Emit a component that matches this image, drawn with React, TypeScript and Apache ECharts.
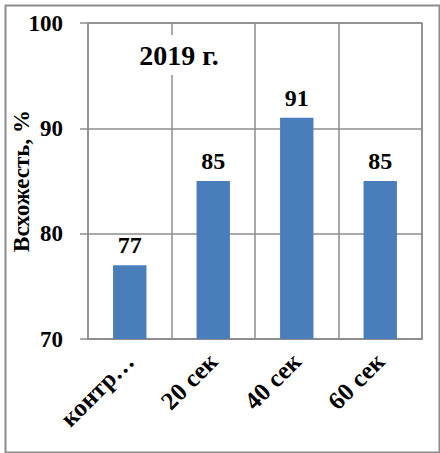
import React, { useEffect, useRef } from "react";
import * as echarts from "echarts";

const categories = ["контроль", "20 сек", "40 сек", "60 сек"];
const values = [77, 85, 91, 85];
const yMin = 70;
const yMax = 100;
const yInterval = 10;
const title = "2019 г.";
const yName = "Всхожесть, %";

const FONT = "Liberation Serif";

export default function App() {
  const ref = useRef<HTMLDivElement>(null);
  useEffect(() => {
    if (!ref.current) return;
    const chart = echarts.init(ref.current, null, { renderer: "svg" });
    chart.setOption({
      animation: false,
      backgroundColor: "#ffffff",
      textStyle: { fontFamily: FONT },
      grid: {
        left: 88,
        right: 18,
        top: 23,
        bottom: 114,
        show: true,
        borderColor: "#8c8c8c",
        borderWidth: 1.5,
        containLabel: false,
        outerBoundsMode: "none",
      },
      xAxis: {
        type: "category",
        data: categories,
        boundaryGap: true,
        axisLine: { show: true, lineStyle: { color: "#8c8c8c", width: 1.5 } },
        axisTick: { show: false },
        splitLine: { show: true, lineStyle: { color: "#8c8c8c", width: 1.5 } },
        axisLabel: {
          rotate: 45,
          margin: 18,
          interval: 0,
          fontFamily: FONT,
          fontWeight: "bold",
          fontSize: 25,
          color: "#000",
          formatter: (v: string) => (v.length > 6 ? v.slice(0, 5) + "…" : v),
        },
      },
      yAxis: {
        type: "value",
        min: yMin,
        max: yMax,
        interval: yInterval,
        name: yName,
        nameLocation: "middle",
        nameGap: 55,
        nameMoveOverlap: false,
        nameTextStyle: {
          fontFamily: FONT,
          fontWeight: "bold",
          fontSize: 23,
          color: "#000",
        },
        axisLine: { show: false },
        axisTick: { show: true, length: 8, lineStyle: { color: "#8c8c8c", width: 1.5 } },
        splitLine: { show: true, lineStyle: { color: "#8c8c8c", width: 1.5 } },
        axisLabel: {
          margin: 25,
          fontFamily: FONT,
          fontWeight: "bold",
          fontSize: 23,
          color: "#000",
        },
      },
      series: [
        {
          type: "bar",
          data: values,
          barWidth: "40%",
          itemStyle: { color: "#4a7ebb" },
          label: {
            show: true,
            position: "top",
            distance: 8,
            fontFamily: FONT,
            fontWeight: "bold",
            fontSize: 24,
            color: "#000",
          },
        },
      ],
      graphic: [
        {
          type: "rect",
          left: 3,
          top: 3,
          shape: { x: 0, y: 0, width: 434, height: 447 },
          style: { fill: "none", stroke: "#8c8c8c", lineWidth: 2 },
          z: 100,
        },
        {
          type: "text",
          x: 179,
          y: 55,
          style: {
            text: title,
            fontFamily: FONT,
            fontWeight: "bold",
            fontSize: 28,
            fill: "#000",
            align: "center",
            verticalAlign: "middle",
            backgroundColor: "#fff",
            padding: [6, 3],
          },
          z: 100,
        },
      ],
    });
    return () => chart.dispose();
  }, []);
  return (
    <div
      ref={ref}
      style={{ position: "fixed", left: 0, top: 0, width: 440, height: 453 }}
    />
  );
}
